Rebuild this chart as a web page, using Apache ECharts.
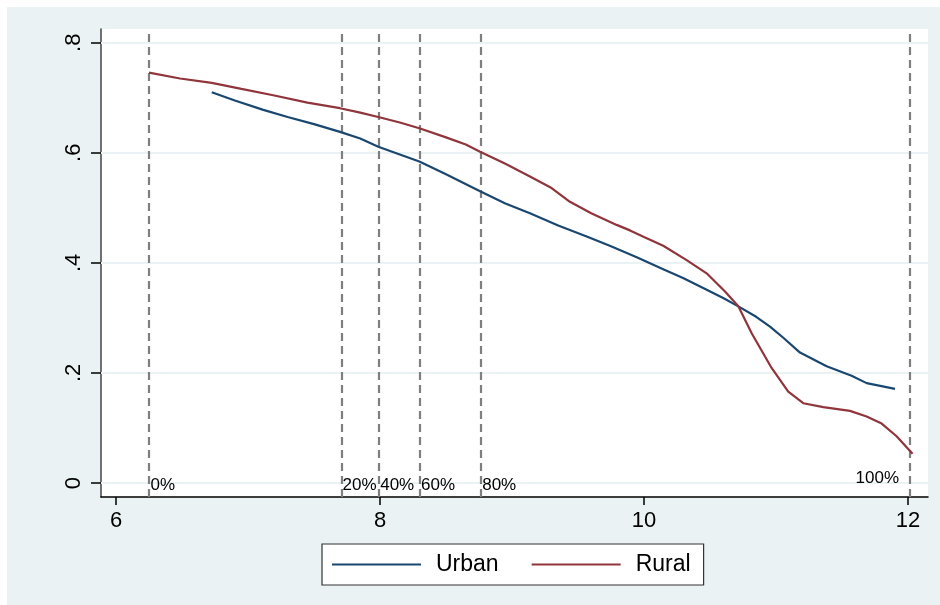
<!DOCTYPE html>
<html>
<head>
<meta charset="utf-8">
<script src="https://cdn.jsdelivr.net/npm/echarts@6/dist/echarts.min.js"></script>
<style>
html,body{margin:0;padding:0;background:#ffffff;}
#chart{width:940px;height:605px;}
</style>
</head>
<body>
<div id="chart"></div>
<script>
// Data
const urbanData = [[6.725,0.710],[6.9,0.695],[7.116,0.678],[7.3,0.665],[7.5,0.652],[7.697,0.638],[7.85,0.626],[7.987,0.611],[8.15,0.597],[8.298,0.584],[8.5,0.561],[8.758,0.530],[8.95,0.508],[9.136,0.490],[9.35,0.468],[9.566,0.448],[9.75,0.430],[9.945,0.410],[10.15,0.388],[10.3,0.372],[10.475,0.351],[10.6,0.336],[10.715,0.321],[10.85,0.302],[10.955,0.284],[11.06,0.263],[11.182,0.237],[11.384,0.212],[11.573,0.195],[11.687,0.1815],[11.902,0.171]];
const ruralData = [[6.25,0.7455],[6.485,0.735],[6.725,0.727],[6.95,0.716],[7.2,0.704],[7.45,0.691],[7.697,0.681],[7.85,0.673],[7.987,0.665],[8.15,0.655],[8.298,0.6445],[8.5,0.628],[8.65,0.615],[8.758,0.602],[8.95,0.580],[9.136,0.557],[9.3,0.536],[9.439,0.511],[9.6,0.490],[9.793,0.469],[9.894,0.459],[10.0,0.447],[10.146,0.431],[10.323,0.405],[10.475,0.381],[10.614,0.348],[10.715,0.321],[10.816,0.272],[10.967,0.209],[11.093,0.166],[11.207,0.145],[11.359,0.138],[11.561,0.131],[11.687,0.121],[11.801,0.108],[11.914,0.085],[12.035,0.053]];
const pctPositions = [6.25, 7.705, 7.99, 8.30, 8.763, 12.005];
const pctLabels = ["0%","20%","40%","60%","80%","100%"];
const xTicks = [6, 8, 10, 12];
const yTicks = [0, 0.2, 0.4, 0.6, 0.8];
const seriesNames = ["Urban", "Rural"];

const FONT = '"Liberation Sans", Arial, Helvetica, sans-serif';
const chart = echarts.init(document.getElementById('chart'), null, {renderer:'canvas'});

const pctPoints = pctPositions.map((x, i) => {
  const last = i === pctPositions.length - 1;
  return {
    value: [x, 0],
    label: {
      show: true,
      formatter: pctLabels[i],
      position: last ? 'left' : 'right',
      distance: last ? 9 : 1,
      offset: last ? [0, -5] : [0, 2],
      fontSize: 17,
      fontFamily: FONT,
      color: '#000',
      opacity: 1
    }
  };
});

chart.setOption({
  animation: false,
  graphic: [{
    type: 'rect', left: 7, top: 7, z: -10, silent: true,
    shape: {width: 933, height: 598},
    style: {fill: '#eaf2f3'}
  }],
  grid: {
    left: 101, right: 12, top: 29, bottom: 108,
    show: true, backgroundColor: '#ffffff', borderWidth: 0
  },
  xAxis: {
    type: 'value', min: 5.886, max: 12.152,
    axisLine: {show: true, onZero: false, lineStyle: {color: '#000', width: 1.5}},
    axisTick: {show: true, length: 8, customValues: xTicks, lineStyle: {color: '#000', width: 1.5}},
    axisLabel: {customValues: xTicks, fontSize: 22, fontFamily: FONT, color: '#000', margin: 13,
      formatter: v => String(v)},
    splitLine: {show: false}
  },
  yAxis: {
    type: 'value', min: -0.0254, max: 0.8249,
    axisLine: {show: true, onZero: false, lineStyle: {color: '#444', width: 1.5}},
    axisTick: {show: true, length: 10, customValues: yTicks, lineStyle: {color: '#000', width: 1.5}},
    axisLabel: {customValues: yTicks, rotate: 90, fontSize: 22, fontFamily: FONT, color: '#000', margin: 16,
      formatter: v => v === 0 ? '0' : String(Math.round(v*10)/10).replace(/^0/, '')},
    splitLine: {show: false}
  },
  legend: {
    left: 322, top: 544,
    data: seriesNames,
    icon: 'rect',
    itemWidth: 89, itemHeight: 2, itemGap: 33,
    padding: [9, 13, 9, 10],
    backgroundColor: '#ffffff', borderColor: '#333', borderWidth: 1.2, borderRadius: 0,
    textStyle: {fontSize: 23, fontFamily: FONT, color: '#000', padding: [0, 0, 0, 10]}
  },
  series: [
    {
      name: 'grid', type: 'line', data: [], silent: true, z: 1,
      markLine: {
        silent: true, symbol: ['none','none'], label: {show: false},
        lineStyle: {color: '#eaf2f3', width: 2, type: 'solid'},
        data: yTicks.map(v => ({yAxis: v}))
      }
    },
    {
      name: 'dash', type: 'line', data: [], silent: true, z: 2,
      markLine: {
        silent: true, symbol: ['none','none'], label: {show: false},
        lineStyle: {color: '#7f7f7f', width: 2.2, type: [8, 5]},
        data: pctPositions.map(v => ({xAxis: v}))
      }
    },
    {
      name: 'pct', type: 'scatter', data: pctPoints, symbolSize: 1,
      itemStyle: {opacity: 0}, silent: true, z: 10
    },
    {
      name: seriesNames[0], type: 'line', data: urbanData, showSymbol: false, symbol: 'none', z: 5,
      lineStyle: {color: '#1a476f', width: 2.2}, itemStyle: {color: '#1a476f'}
    },
    {
      name: seriesNames[1], type: 'line', data: ruralData, showSymbol: false, symbol: 'none', z: 5,
      lineStyle: {color: '#90353b', width: 2.2}, itemStyle: {color: '#90353b'}
    }
  ]
});
</script>
</body>
</html>
